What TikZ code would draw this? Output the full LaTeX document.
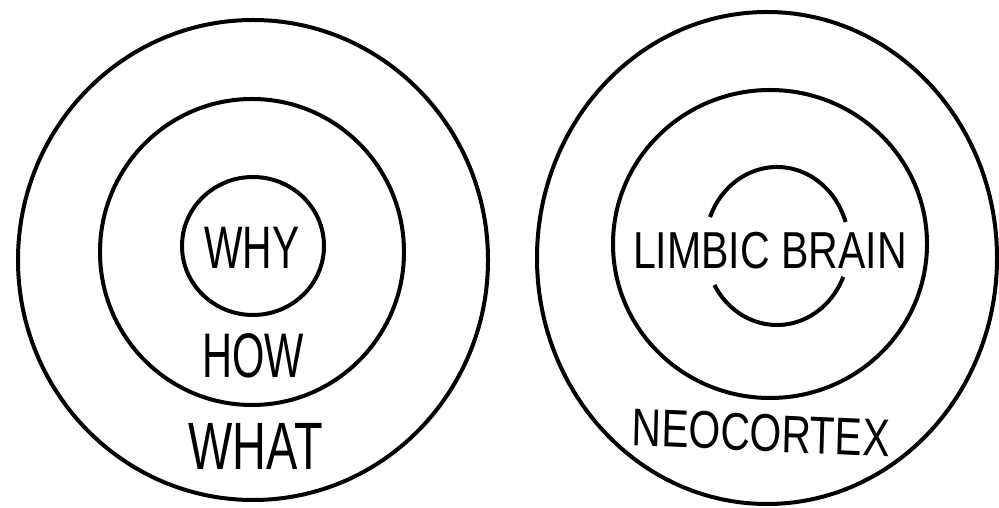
\documentclass[tikz,border=0pt]{standalone}
\usepackage{fontspec}
\setmainfont{Liberation Sans}
\begin{document}
\begin{tikzpicture}[x=1pt,y=1pt,
  ring/.style={line width=4pt},
  lbl/.style={inner sep=0pt, transform shape}]
\useasboundingbox (0,0) rectangle (999,508);
% left set
\draw[ring] (253,248) ellipse [x radius=235, y radius=240];
\draw[ring] (252,256) ellipse [x radius=152, y radius=153];
\draw[ring] (253,262) ellipse [x radius=71, y radius=69];
\node[lbl, xscale=0.68, font=\fontsize{60}{60}\selectfont] (why) at (252,260) {WHY};
\node[lbl, xscale=0.66, font=\fontsize{63}{63}\selectfont] (how) at (253,152) {HOW};
\node[lbl, xscale=0.70, font=\fontsize{67}{67}\selectfont] (what) at (256,62) {WHAT};
% right set
\draw[ring] (767,250) ellipse [x radius=230, y radius=246];
\draw[ring] (770,264) ellipse [x radius=157, y radius=154];
\coordinate (ic) at (777,262);
\draw[ring] ([shift={(17.7:72 and 79)}]ic) arc [start angle=17.7, end angle=158.5, x radius=72, y radius=79];
\draw[ring] ([shift={(209.6:72 and 79)}]ic) arc [start angle=209.6, end angle=337, x radius=72, y radius=79];
\node[lbl, xscale=0.79, font=\fontsize{52}{52}\selectfont] (limbic) at (770,257) {LIMBIC BRAIN};
\node[lbl, xscale=0.77, rotate=-2, font=\fontsize{53}{53}\selectfont] (neo) at (761,75) {NEOCORTEX};
\end{tikzpicture}
\end{document}
